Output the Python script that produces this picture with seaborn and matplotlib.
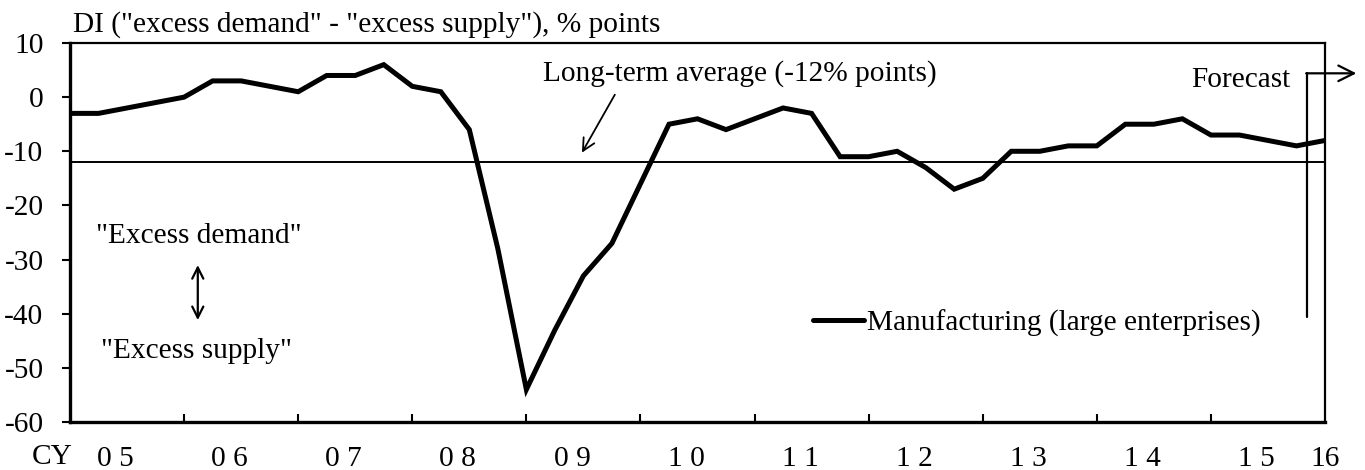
import numpy as np
import pandas as pd
import seaborn as sns
import matplotlib.pyplot as plt

# quarterly DI, CY2005 Q1 .. CY2016 Q1 (last point = forecast)
di_values = [-3, -3, -2, -1, 0, 3, 3, 2, 1, 4, 4, 6, 2, 1, -6, -28, -54,
             -43, -33, -27, -16, -5, -4, -6, -4, -2, -3, -11, -11, -10, -13,
             -17, -15, -10, -10, -9, -9, -5, -5, -4, -7, -7, -8, -9, -8]
long_term_avg = -12
year_labels = ["0 5", "0 6", "0 7", "0 8", "0 9", "1 0", "1 1", "1 2",
               "1 3", "1 4", "1 5"]
last_label = "16"
series_name = "Manufacturing (large enterprises)"

df = pd.DataFrame({"q": np.arange(len(di_values)), "di": di_values})

sns.set_theme(style="white")
plt.rcParams['font.family'] = ['Liberation Serif', 'DejaVu Serif']
plt.rcParams['axes.unicode_minus'] = False
for k in ['text.color', 'axes.labelcolor', 'xtick.color', 'ytick.color']:
    plt.rcParams[k] = 'black'
fs = 21.2

fig = plt.figure(figsize=(13.65, 4.7), dpi=100)
ax = fig.add_axes([70 / 1365, 48 / 470, 1255 / 1365, 379 / 470])

sns.lineplot(data=df, x="q", y="di", ax=ax, color="black", linewidth=3.6,
             label=series_name)
ax.lines[0].set_solid_joinstyle("miter")
ax.axhline(long_term_avg, color="black", linewidth=1.4)

n = len(di_values) - 1
ax.set_xlim(0, n)
ax.set_ylim(-60, 10)
ax.set_xlabel("")
ax.set_ylabel("")

# axes frame
for side in ["left", "bottom"]:
    ax.spines[side].set_linewidth(2.4)
for side in ["top", "right"]:
    ax.spines[side].set_linewidth(1.6)
for s in ax.spines.values():
    s.set_color("black")

# y ticks
ax.set_yticks(np.arange(-60, 11, 10))
ax.tick_params(axis="y", direction="out", length=6, width=1.5, pad=13,
               labelsize=fs, left=True)

# x ticks: year boundaries, labels between them
ax.set_xticks(np.arange(4, n, 4))
ax.set_xticklabels([])
ax.tick_params(axis="x", which="major", direction="in", length=6, width=1.5,
               bottom=True)
ax.set_xticks(list(np.arange(1.6, n, 4)) + [n], minor=True)
ax.set_xticklabels(year_labels + [last_label], minor=True)
ax.tick_params(axis="x", which="minor", length=0, pad=17, labelsize=fs)
fig.text(32 / 1365, 1 - 464 / 470, "CY", fontsize=fs, va="baseline")

fig.text(73 / 1365, 1 - 32 / 470,
         'DI ("excess demand" - "excess supply"), % points',
         fontsize=fs, va="baseline")

# long-term average note
ax.text(23.5, 3.1, "Long-term average (-12% points)", fontsize=fs,
        ha="center", va="baseline")
ax.annotate("", xy=(17.9, -10.7), xytext=(19.15, 0.9),
            arrowprops=dict(arrowstyle="->", color="black", lw=1.3,
                            mutation_scale=22))

# excess demand / supply
ax.text(4.5, -27, '"Excess demand"', fontsize=fs, ha="center", va="baseline")
ax.text(4.45, -48.2, '"Excess supply"', fontsize=fs, ha="center",
        va="baseline")
ax.annotate("", xy=(4.48, -41.7), xytext=(4.48, -30.5),
            arrowprops=dict(arrowstyle="<->", color="black", lw=1.6,
                            mutation_scale=20))

# forecast marker
fx = 43.37
ax.plot([fx, fx], [-40.6, 4.4], color="black", lw=1.6, clip_on=False)
ax.annotate("", xy=(45.1, 4.4), xytext=(fx - 0.03, 4.4),
            arrowprops=dict(arrowstyle="->", color="black", lw=1.6,
                            mutation_scale=28, shrinkA=0, shrinkB=0),
            annotation_clip=False)
ax.text(42.8, 1.85, "Forecast", fontsize=fs, ha="right", va="baseline")

ax.legend(loc="center left", bbox_to_anchor=(0.592, 0.261), frameon=False,
          fontsize=fs, handlelength=1.75, handletextpad=0.1, borderpad=0,
          borderaxespad=0)

fig.savefig("out.png", dpi=100)
